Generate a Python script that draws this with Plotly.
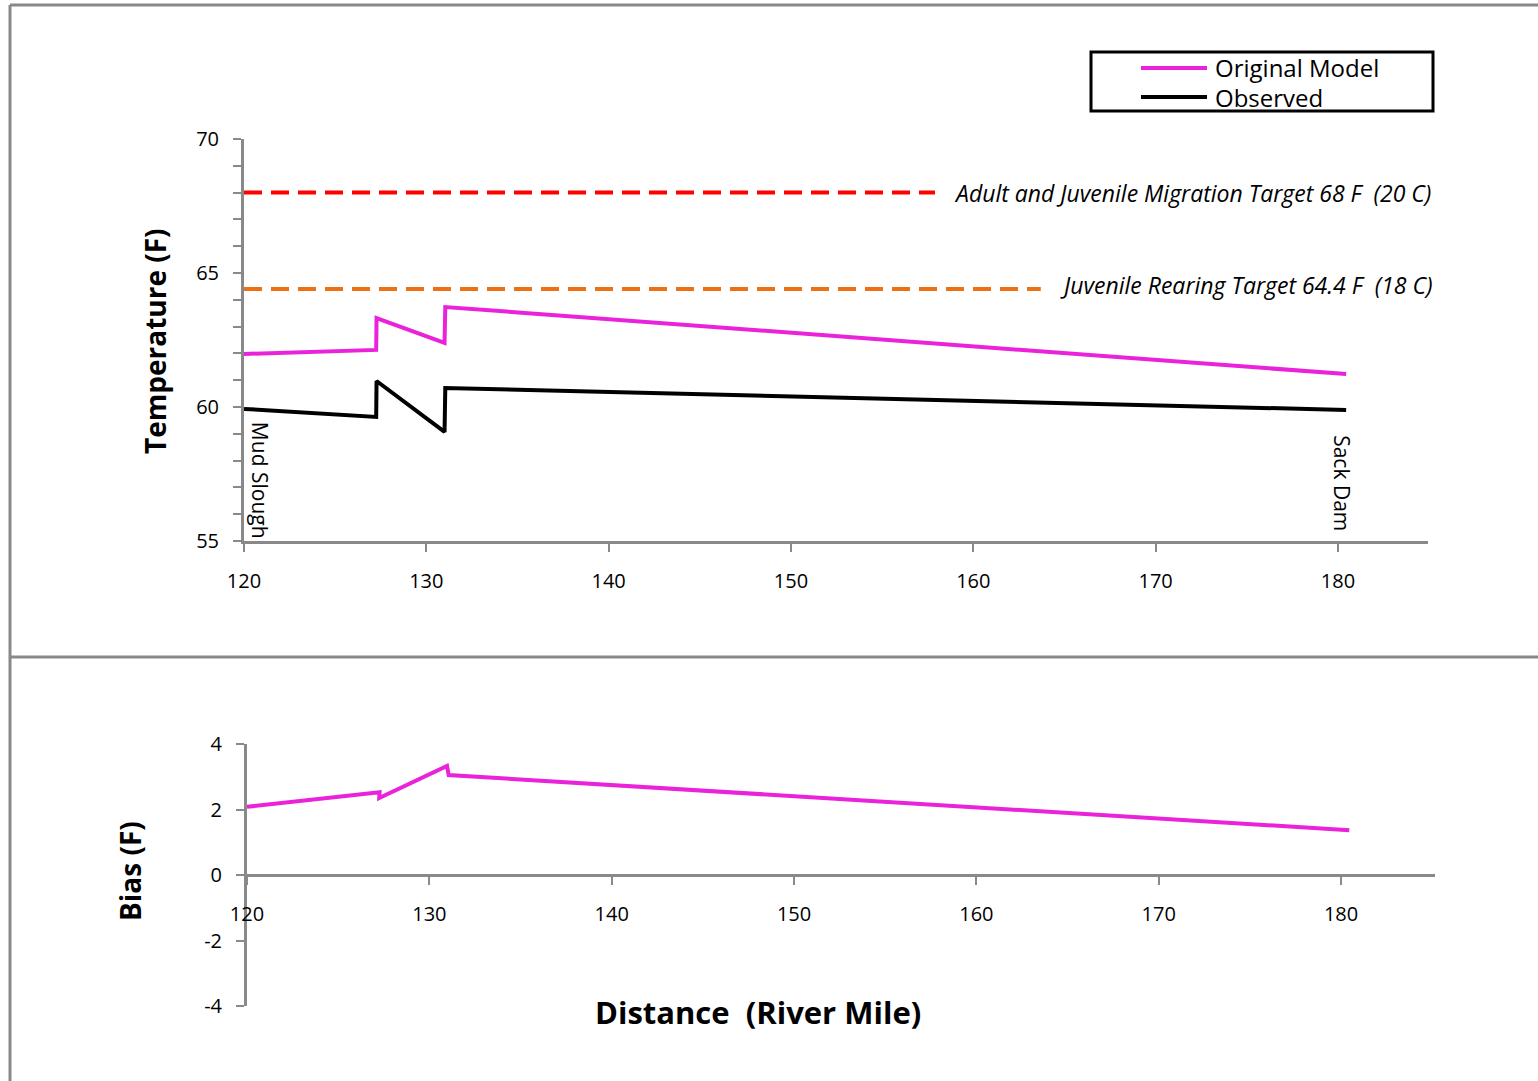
import plotly.graph_objects as go

# ---------------- data ----------------
river_mile = [120.0, 127.25, 127.27, 131.0, 131.04, 180.45]
original_model = [61.98, 62.13, 63.32, 62.39, 63.73, 61.23]
observed = [59.93, 59.63, 60.97, 59.07, 60.71, 59.89]

bias_mile = [120.0, 127.27, 127.25, 130.97, 131.06, 180.45]
bias = [2.08, 2.53, 2.35, 3.33, 3.05, 1.37]

migration_target_x = [120.0, 157.9]
migration_target_y = [68.0, 68.0]
rearing_target_x = [120.0, 163.7]
rearing_target_y = [64.4, 64.4]

temp_ticks = [55, 60, 65, 70]
bias_ticks = [-4, -2, 0, 2, 4]
bias_tick_labels = ["-4", "-2", "0", "2", "4"]
mile_ticks = [120, 130, 140, 150, 160, 170, 180]

# ---------------- layout helpers ----------------
W, H = 1538, 1081
def px(x):
    return x / W
def py(y):
    return 1 - y / H

MAGENTA = "#EA22DA"
GRAY = "#898989"
FONT = "Open Sans"

fig = go.Figure()

fig.add_trace(go.Scatter(x=migration_target_x, y=migration_target_y, mode="lines",
                         line=dict(color="#FF0000", width=4, dash="18px,9px"),
                         xaxis="x", yaxis="y", showlegend=False, hoverinfo="skip"))
fig.add_trace(go.Scatter(x=rearing_target_x, y=rearing_target_y, mode="lines",
                         line=dict(color="#EC7014", width=4, dash="18px,9px"),
                         xaxis="x", yaxis="y", showlegend=False, hoverinfo="skip"))
fig.add_trace(go.Scatter(x=river_mile, y=original_model, mode="lines", name="Original Model",
                         line=dict(color=MAGENTA, width=4), xaxis="x", yaxis="y", showlegend=False))
fig.add_trace(go.Scatter(x=river_mile, y=observed, mode="lines", name="Observed",
                         line=dict(color="#000000", width=4), xaxis="x", yaxis="y", showlegend=False))
fig.add_trace(go.Scatter(x=bias_mile, y=bias, mode="lines", name="Bias",
                         line=dict(color=MAGENTA, width=4), xaxis="x2", yaxis="y2", showlegend=False))

axis_common = dict(showline=True, linecolor=GRAY, linewidth=3, ticks="outside",
                   tickcolor=GRAY, tickwidth=2, ticklen=8, showgrid=False, zeroline=False,
                   automargin=False,
                   tickfont=dict(family=FONT, size=20, color="#000000"))

fig.update_layout(
    width=W, height=H, autosize=False,
    margin=dict(l=0, r=0, t=0, b=0, pad=0, autoexpand=False),
    paper_bgcolor="white", plot_bgcolor="white",
    showlegend=False,
    xaxis=dict(domain=[px(244), px(1428)], range=[120, 184.94], anchor="y",
               tickvals=mile_ticks, ticklabelstandoff=12, **axis_common),
    yaxis=dict(domain=[py(541), py(139)], range=[55, 70], anchor="x",
               tickvals=temp_ticks, ticklabelstandoff=10,
               minor=dict(dtick=1, ticks="outside", ticklen=8, tickwidth=2, tickcolor=GRAY),
               **axis_common),
    xaxis2=dict(domain=[px(247), px(1435)], range=[120, 185.15], anchor="free",
                position=py(875), tickvals=mile_ticks, ticklabelstandoff=12, **axis_common),
    yaxis2=dict(domain=[py(1006), py(744)], range=[-4, 4], anchor="x2",
                tickvals=bias_ticks, ticktext=bias_tick_labels, ticklabelstandoff=10, **axis_common),
)

# panel borders
border = dict(color=GRAY, width=3)
fig.add_shape(type="line", xref="paper", yref="paper", x0=px(10), y0=py(5), x1=1, y1=py(5), line=border)
fig.add_shape(type="line", xref="paper", yref="paper", x0=px(10), y0=py(5), x1=px(10), y1=0, line=border)
fig.add_shape(type="line", xref="paper", yref="paper", x0=px(10), y0=py(657), x1=1, y1=py(657), line=border)

# manual legend
fig.add_shape(type="rect", xref="paper", yref="paper", x0=px(1091), y0=py(111), x1=px(1433), y1=py(52),
              line=dict(color="#000000", width=3), fillcolor="white")
fig.add_shape(type="line", xref="paper", yref="paper", x0=px(1141), y0=py(68), x1=px(1207), y1=py(68),
              line=dict(color=MAGENTA, width=4))
fig.add_shape(type="line", xref="paper", yref="paper", x0=px(1141), y0=py(97), x1=px(1207), y1=py(97),
              line=dict(color="#000000", width=4))
for label, yy in [("Original Model", 68), ("Observed", 97)]:
    fig.add_annotation(xref="paper", yref="paper", x=px(1213), y=py(yy), text=label, showarrow=False,
                       xanchor="left", yanchor="middle", font=dict(family=FONT, size=24, color="#000000"))

# target labels
fig.add_annotation(xref="x", yref="y", x=158.83, y=68.0, text="<i>Adult and Juvenile Migration Target 68 F  (20 C)</i>",
                   showarrow=False, xanchor="left", yanchor="middle",
                   font=dict(family=FONT, size=23, color="#000000"))
fig.add_annotation(xref="x", yref="y", x=164.64, y=64.55, text="<i>Juvenile Rearing Target 64.4 F  (18 C)</i>",
                   showarrow=False, xanchor="left", yanchor="middle",
                   font=dict(family=FONT, size=23, color="#000000"))

# location labels
fig.add_annotation(xref="x", yref="y", x=120.88, y=57.28, text="Mud Slough", textangle=90, showarrow=False,
                   xanchor="center", yanchor="middle",
                   font=dict(family=FONT, size=21, color="#000000"))
fig.add_annotation(xref="x", yref="y", x=180.22, y=57.16, text="Sack Dam", textangle=90, showarrow=False,
                   xanchor="center", yanchor="middle",
                   font=dict(family=FONT, size=21, color="#000000"))

# axis titles
fig.add_annotation(xref="paper", yref="paper", x=px(155), y=py(341), text="<b>Temperature (F)</b>",
                   textangle=-90, showarrow=False, xanchor="center", yanchor="middle",
                   font=dict(family=FONT, size=28, color="#000000"))
fig.add_annotation(xref="paper", yref="paper", x=px(130), y=py(871), text="<b>Bias (F)</b>",
                   textangle=-90, showarrow=False, xanchor="center", yanchor="middle",
                   font=dict(family=FONT, size=28, color="#000000"))
fig.add_annotation(xref="paper", yref="paper", x=px(758), y=py(1012), text="<b>Distance\u00a0 (River Mile)</b>",
                   showarrow=False, xanchor="center", yanchor="middle",
                   font=dict(family=FONT, size=31, color="#000000"))

fig.write_html("out.html", config={"displayModeBar": False},
               post_script="document.body.style.margin='0px';")
